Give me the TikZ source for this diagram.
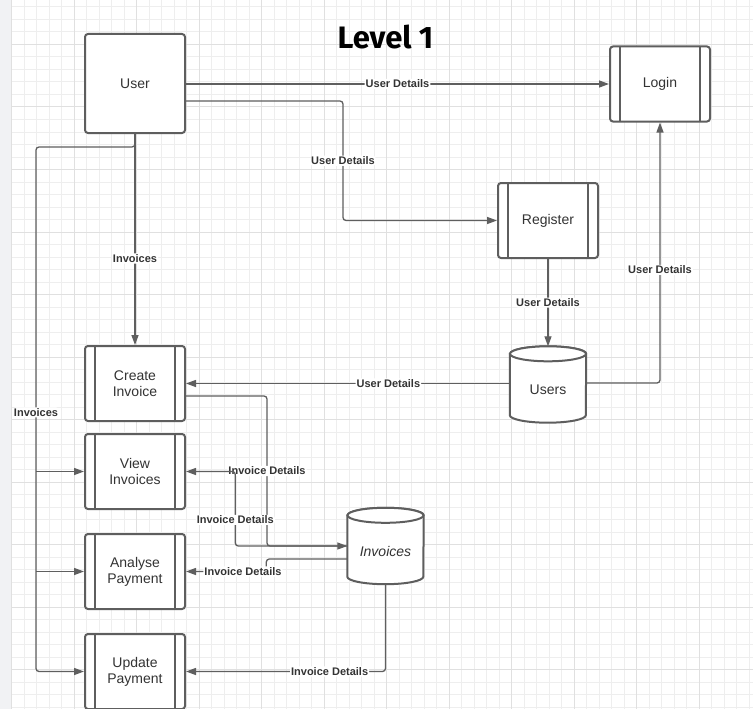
\documentclass[tikz,border=0pt]{standalone}
\usepackage{fontspec}
\setmainfont{Liberation Sans}
\newfontfamily\titlefont{Fira Sans}
\usetikzlibrary{arrows.meta}
\definecolor{gridminor}{HTML}{EEEEEE}
\definecolor{gridmajor}{HTML}{E0E0E0}
\definecolor{strip}{HTML}{F1F2F4}
\definecolor{boxc}{HTML}{5E5E5E}
\definecolor{linec}{HTML}{5F5F5F}
\definecolor{txt}{HTML}{333333}
\pgfdeclarelayer{gridlayer}
\pgfdeclarelayer{bg}
\pgfsetlayers{gridlayer,bg,main}
\begin{document}
\begin{tikzpicture}[x=1pt,y=-1pt,
  boxbase/.style={draw=boxc, line width=2pt, fill=white, rounded corners=3pt,
    minimum width=100pt, minimum height=75pt, inner sep=0pt, align=center,
    text=txt, font=\fontsize{14}{16}\selectfont},
  entity/.style={boxbase, minimum height=99pt},
  proc/.style={boxbase, path picture={
    \draw[boxc,line width=2pt] ([xshift=10pt]path picture bounding box.north west) -- ([xshift=10pt]path picture bounding box.south west);
    \draw[boxc,line width=2pt] ([xshift=-10pt]path picture bounding box.north east) -- ([xshift=-10pt]path picture bounding box.south east);}},
  store/.style={minimum width=76pt, minimum height=76pt, inner sep=0pt,
    text=txt, font=\fontsize{14}{16}\selectfont, text height=20pt, text depth=0pt},
  cylc/.style={draw=boxc, line width=2pt, fill=white},
  flow/.style={draw=linec, line width=1.3pt, rounded corners=3pt},
  arr/.style={flow, -{Triangle[length=10pt,width=7pt]}},
  lbl/.style={fill=white, inner sep=1pt, text=txt, font=\fontsize{11}{13}\selectfont\bfseries},
  ttl/.style={inner sep=0pt, font=\titlefont\fontsize{31}{34}\selectfont\bfseries},
]
\useasboundingbox (0,0) rectangle (753,709);
\begin{pgfonlayer}{gridlayer}
  \fill[white] (0,0) rectangle (753,709);
  \foreach \x in {11.5,24,...,753} \draw[gridminor, line width=1pt] (\x,0) -- (\x,709);
  \foreach \y in {7,19.5,...,709} \draw[gridminor, line width=1pt] (11.5,\y) -- (753,\y);
  \foreach \x in {11.5,74,...,753} \draw[gridmajor, line width=1pt] (\x,0) -- (\x,709);
  \foreach \y in {44.5,107,...,709} \draw[gridmajor, line width=1pt] (11.5,\y) -- (753,\y);
  \fill[strip] (0,0) rectangle (11,709);
\end{pgfonlayer}

% title
\node[ttl] (title) at (385.5,37) {Level 1};

% nodes
\node[entity] (user) at (135,83.5) {User};
\node[proc] (login) at (660,84) {Login};
\node[proc] (register) at (548,220.5) {Register};
\node[proc] (create) at (135,383.5) {Create\\Invoice};
\node[proc] (view) at (135,471.5) {View\\Invoices};
\node[proc] (analyse) at (135,571.5) {Analyse\\Payment};
\node[proc] (update) at (135,671.5) {Update\\Payment};
\node[store] (users) at (548,384.5) {Users};
\node[store] (invdb) at (385.5,546) {\itshape Invoices};

\begin{pgfonlayer}{bg}
  \foreach \n in {users,invdb} {
    \draw[cylc] ([yshift=-7.5pt]\n.north west) -- ([yshift=7.5pt]\n.south west)
      arc[start angle=180, end angle=360, x radius=38pt, y radius=7.5pt]
      -- ([yshift=-7.5pt]\n.north east)
      arc[start angle=0, end angle=180, x radius=38pt, y radius=7.5pt] -- cycle;
    \draw[cylc] ([yshift=-7.5pt]\n.north) ellipse [x radius=38pt, y radius=7.5pt];
  }
\end{pgfonlayer}

% connectors
\draw[arr] (user.east |- login.west) -- node[lbl] {User Details} (login.west);
\draw[arr] ([yshift=-17.5pt]user.east) -- ++(157,0) coordinate (c1)
  -- node[lbl] {User Details} (c1 |- register.west) -- (register.west);
\draw[arr] (user.south) -- node[lbl, pos=0.59] {Invoices} (create.north);
\draw[arr] (user.south) -- ++(0,13) -- ++(-99,0) coordinate (b1)
  |- node[lbl, pos=0.253] {Invoices} (update.west);
\draw[arr] (b1 |- view.west) -- (view.west);
\draw[arr] (b1 |- analyse.west) -- (analyse.west);
\draw[arr] (register.south) -- node[lbl] {User Details} (users.north);
\draw[arr] ([yshift=1.5pt]users.east) -| node[lbl, pos=0.717] {User Details} (login.south);
\draw[arr] (create.east -| users.west) -- node[lbl, pos=0.375] {User Details} (create.east);
\draw[arr] ([yshift=-12.5pt]create.east) -- ++(81,0) coordinate (c2)
  -- node[lbl] {Invoice Details} (c2 |- invdb.west) -- (invdb.west);
\draw[arr] (invdb.west) -- ++(-112,0) coordinate (c3)
  -- node[lbl, pos=0.35] {Invoice Details} (c3 |- view.east) -- (view.east);
\draw[arr] ([yshift=-13pt]invdb.west) -- ++(-81,0) coordinate (c4)
  -- (c4 |- analyse.east) -- node[lbl, pos=0.29] {Invoice Details} (analyse.east);
\draw[arr] (invdb.south) |- node[lbl, pos=0.64] {Invoice Details} (update.east);
\end{tikzpicture}
\end{document}
